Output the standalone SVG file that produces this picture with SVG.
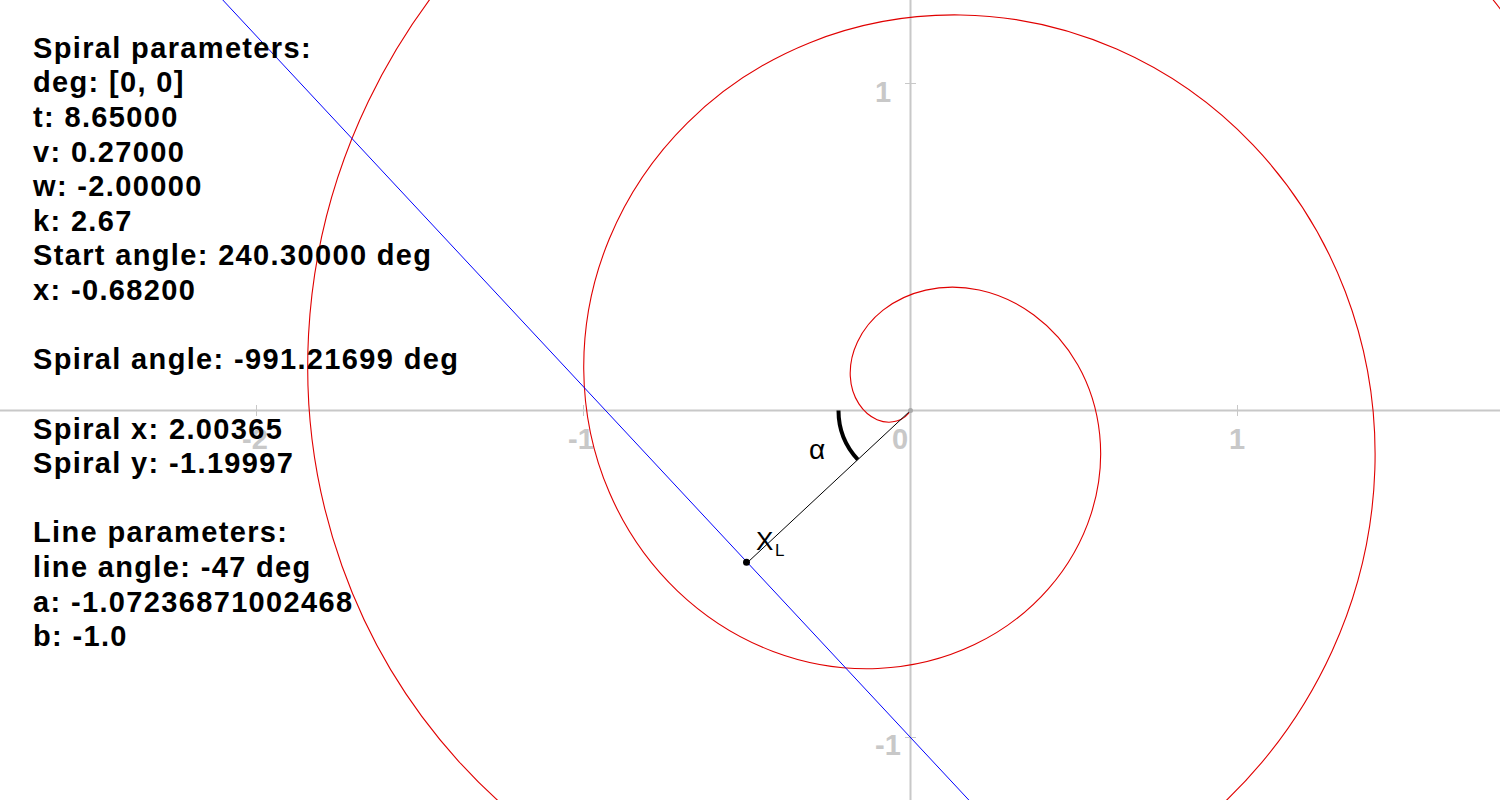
<svg xmlns="http://www.w3.org/2000/svg" width="1500" height="800" viewBox="0 0 1500 800">
<style>
.axis{stroke:#c8c8c8;stroke-width:2;fill:none}
.tick{stroke:#c8c8c8;stroke-width:1;fill:none}
.ticklbl{fill:#c8c8c8;font-family:"Liberation Sans",Arial,sans-serif;font-weight:bold;font-size:29px}
.info{fill:#000;font-family:"Liberation Sans",Arial,sans-serif;font-weight:bold;font-size:29px;letter-spacing:1.35px}
.lbl{fill:#000;font-family:"Liberation Sans",Arial,sans-serif}
</style>
<rect width="1500" height="800" fill="#fff"/>
<g id="axes">
<line class="axis" x1="0" y1="410.5" x2="1500" y2="410.5"/>
<line class="axis" x1="910.5" y1="0" x2="910.5" y2="800"/>
<path class="tick" d="M256.5,405V416M583.5,405V416M1237.5,405V416M905,83.5H916M905,737.5H916"/>
<text class="ticklbl" x="255" y="449" text-anchor="middle">-2</text>
<text class="ticklbl" x="581" y="449" text-anchor="middle">-1</text>
<text class="ticklbl" x="892" y="449">0</text>
<text class="ticklbl" x="1237" y="449" text-anchor="middle">1</text>
<text class="ticklbl" x="875" y="102">1</text>
<text class="ticklbl" x="875" y="755">-1</text>
</g>
<g id="spiral">
<path fill="none" stroke="#e00000" stroke-width="1.1" d="M910.5,410.5
C904.70,420.67 890.78,425.43 877.06,419.65
C863.34,413.87 851.33,397.92 850.27,376.14
C849.21,354.36 859.53,328.74 883.05,310.17
C906.57,291.60 941.46,281.98 979.21,290.04
C1016.96,298.09 1054.29,323.50 1077.71,364.76
C1101.14,406.02 1108.37,459.84 1091.20,513.57
C1074.03,567.30 1033.54,616.32 974.54,644.60
C915.54,672.88 842.78,677.71 773.08,651.43
C703.38,625.15 642.65,569.58 609.52,492.84
C576.39,416.10 573.95,324.40 609.34,238.72
C644.73,153.04 715.39,80.62 809.87,42.64
C904.35,4.66 1014.99,4.60 1116.64,49.10
C1218.29,93.60 1302.41,179.35 1345.25,291.57
C1388.09,403.79 1385.74,533.36 1332.13,650.99
C1278.52,768.62 1177.69,864.44 1047.73,912.13
C917.78,959.82 769.25,955.09 635.65,892.36
C502.05,829.63 394.52,713.72 341.98,566.03
C289.44,418.34 296.57,250.87 368.41,101.29
C440.25,-48.29 571.25,-167.51 736.68,-224.90
C902.11,-282.30 1088.51,-272.78 1254.06,-191.83
C1419.61,-110.88 1550.54,35.21 1612.79,218.38
C1675.04,401.55 1663.12,606.89 1573.06,788.42"/>
</g>
<g id="connectors">
<line id="line" x1="222.8" y1="0" x2="968.8" y2="800" stroke="#0000ff" stroke-width="1"/>
<line id="perpendicular" x1="910.5" y1="410.5" x2="747.4" y2="562.6" stroke="#000" stroke-width="1"/>
<path id="alpha-arc" d="M838.5,410.5 A72,72 0 0 0 857.84,459.6" fill="none" stroke="#000" stroke-width="4"/>
</g>
<g id="origin"><circle cx="910.5" cy="410.5" r="2.5" fill="#aaa"/></g>
<g id="xl-point">
<circle cx="746.5" cy="562.3" r="3.5" fill="#000"/>
<text class="lbl" x="756" y="550" font-size="26">X</text>
<text class="lbl" x="775" y="556" font-size="17">L</text>
</g>
<g id="alpha-label"><text class="lbl" x="809" y="459" font-size="28">α</text></g>
<g id="parameters">
<text class="info" x="33" y="57.7">Spiral parameters:</text>
<text class="info" x="33" y="92.3">deg: [0, 0]</text>
<text class="info" x="33" y="127">t: 8.65000</text>
<text class="info" x="33" y="161.6">v: 0.27000</text>
<text class="info" x="33" y="196.2">w: -2.00000</text>
<text class="info" x="33" y="230.8">k: 2.67</text>
<text class="info" x="33" y="265.4">Start angle: 240.30000 deg</text>
<text class="info" x="33" y="300">x: -0.68200</text>
<text class="info" x="33" y="369.3">Spiral angle: -991.21699 deg</text>
<text class="info" x="33" y="438.5">Spiral x: 2.00365</text>
<text class="info" x="33" y="473.1">Spiral y: -1.19997</text>
<text class="info" x="33" y="542.4">Line parameters:</text>
<text class="info" x="33" y="577">line angle: -47 deg</text>
<text class="info" x="33" y="611.6">a: -1.07236871002468</text>
<text class="info" x="33" y="646.2">b: -1.0</text>
</g>
</svg>
